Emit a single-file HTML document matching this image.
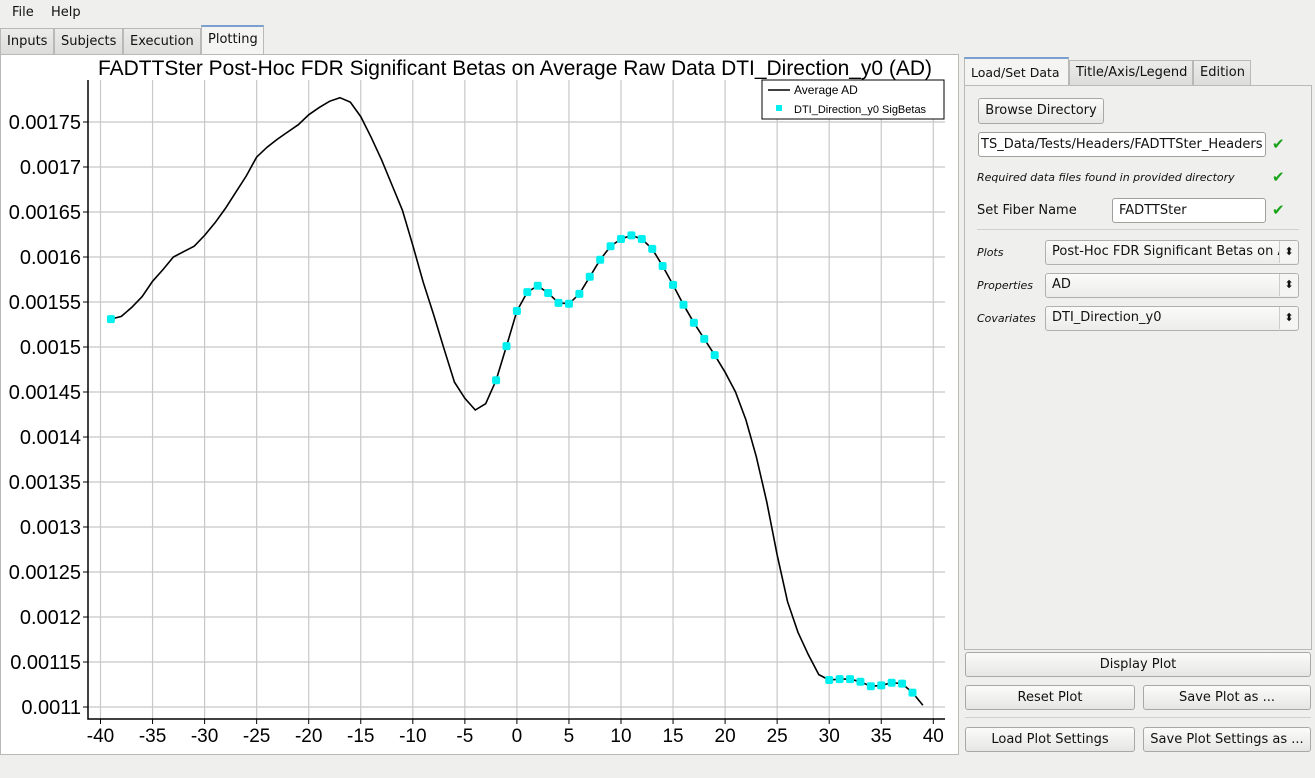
<!DOCTYPE html>
<html><head><meta charset="utf-8">
<style>
*{box-sizing:border-box}
body{margin:0;width:1315px;height:778px;background:#efefed;font-family:"DejaVu Sans","Liberation Sans",sans-serif;font-size:13px;color:#111;position:relative;overflow:hidden}
.abs{position:absolute}
.tab{position:absolute;top:28px;height:27px;border:1px solid #b9b9b6;background:linear-gradient(#ececea,#dcdcda);padding:5px 6px 0;font-size:13px;white-space:nowrap;overflow:hidden}
.btn{position:absolute;border:1px solid #a8a8a5;border-radius:3px;background:linear-gradient(#fbfbfa,#e6e6e4);text-align:center;font-size:13px;line-height:24px;white-space:nowrap}
.inp{position:absolute;border:1px solid #a0a09d;border-radius:3px;background:#fff;padding:0 6px;line-height:24px;font-size:13px;white-space:nowrap;overflow:hidden}
.combo{position:absolute;border:1px solid #b0b0ad;border-radius:3px;background:linear-gradient(#fbfbfa,#ececea);padding:0 6px;line-height:22px;font-size:13px;white-space:nowrap;overflow:hidden}
.combo:after{content:"⬍";position:absolute;right:0;top:0;width:18px;text-align:center;border-left:1px solid #ccc;font-size:11px;background:#f5f5f3}
.chk{position:absolute;color:#1aa31a;font-size:15px;font-weight:bold}
.lbl{position:absolute;font-size:13px;white-space:nowrap}
.it{font-style:italic;font-size:11px}
</style></head><body>
<div class="abs" style="left:12px;top:5px">File</div>
<div class="abs" style="left:51px;top:5px">Help</div>
<div class="tab" style="left:0;width:54px">Inputs</div>
<div class="tab" style="left:54px;width:69px">Subjects</div>
<div class="tab" style="left:123px;width:78px">Execution</div>
<div class="tab" style="left:201px;top:25px;height:30px;width:63px;background:#f4f4f2;border-top:2px solid #7ba0cf">Plotting</div>
<div class="abs" style="left:0;top:54px;width:959px;height:701px;background:#fff;border:1px solid #b9b9b6"></div>
<svg class="abs" id="chart" style="left:0;top:0" width="960" height="760"></svg>

<div class="abs" style="left:964px;top:85px;width:348px;height:565px;border:1px solid #b9b9b6;background:#efefed"></div>
<div class="tab" style="left:964px;top:57px;height:29px;width:105px;background:#f4f4f2;border-top:2px solid #7ba0cf;padding:6px 0 0 6px;font-size:12.5px">Load/Set Data</div>
<div class="tab" style="left:1069px;top:60px;height:26px;width:124px;padding-top:4px">Title/Axis/Legend</div>
<div class="tab" style="left:1193px;top:60px;height:26px;width:58px;padding-top:4px">Edition</div>
<div class="btn" style="left:978px;top:98px;width:126px;height:26px">Browse Directory</div>
<div class="inp" style="left:978px;top:132px;width:288px;height:25px;padding:0 2px">TS_Data/Tests/Headers/FADTTSter_Headers</div>
<div class="chk" style="left:1272px;top:135px">✔</div>
<div class="lbl it" style="left:977px;top:171px">Required data files found in provided directory</div>
<div class="chk" style="left:1272px;top:168px">✔</div>
<div class="lbl" style="left:977px;top:203px">Set Fiber Name</div>
<div class="inp" style="left:1112px;top:198px;width:154px;height:25px">FADTTSter</div>
<div class="chk" style="left:1272px;top:201px">✔</div>
<div class="abs" style="left:977px;top:229px;width:322px;height:1px;background:#d0d0cd"></div>
<div class="lbl it" style="left:977px;top:246px">Plots</div>
<div class="combo" style="left:1045px;top:240px;width:254px;height:25px">Post-Hoc FDR Significant Betas on A</div>
<div class="lbl it" style="left:977px;top:279px">Properties</div>
<div class="combo" style="left:1045px;top:273px;width:254px;height:25px">AD</div>
<div class="lbl it" style="left:977px;top:312px">Covariates</div>
<div class="combo" style="left:1045px;top:306px;width:254px;height:25px">DTI_Direction_y0</div>
<div class="btn" style="left:965px;top:652px;width:346px;height:25px">Display Plot</div>
<div class="btn" style="left:965px;top:685px;width:170px;height:25px">Reset Plot</div>
<div class="btn" style="left:1143px;top:685px;width:168px;height:25px">Save Plot as ...</div>
<div class="abs" style="left:965px;top:717px;width:346px;height:1px;background:#d0d0cd"></div>
<div class="btn" style="left:965px;top:727px;width:170px;height:25px">Load Plot Settings</div>
<div class="btn" style="left:1143px;top:727px;width:168px;height:25px">Save Plot Settings as ...</div>

<script>
const xs=[-39,-38,-37,-36,-35,-34,-33,-32,-31,-30,-29,-28,-27,-26,-25,-24,-23,-22,-21,-20,-19,-18,-17,-16,-15,-14,-13,-12,-11,-10,-9,-8,-7,-6,-5,-4,-3,-2,-1,0,1,2,3,4,5,6,7,8,9,10,11,12,13,14,15,16,17,18,19,20,21,22,23,24,25,26,27,28,29,30,31,32,33,34,35,36,37,38,39];
const avgAD=[.001531,.001534,.001544,.001556,.001573,.001586,.001600,.001606,.001612,.001624,.001638,.001654,.001672,.001690,.001711,.001722,.001731,.001739,.001747,.001758,.001766,.001773,.001777,.001772,.001756,.001733,.001708,.001680,.001652,.001613,.001572,.001536,.001498,.001461,.001443,.001430,.001437,.001463,.001501,.001540,.001561,.001568,.001560,.001549,.001548,.001559,.001578,.001597,.001612,.001620,.001624,.001620,.001609,.001590,.001569,.001547,.001527,.001509,.001491,.001472,.001450,.001419,.001378,.001328,.001269,.001217,.001183,.001158,.001136,.001130,.001131,.001131,.001128,.001123,.001124,.001127,.001126,.001116,.001102];
const sigX=[-39,-2,-1,0,1,2,3,4,5,6,7,8,9,10,11,12,13,14,15,16,17,18,19,30,31,32,33,34,35,36,37,38];
const xTicks=[-40,-35,-30,-25,-20,-15,-10,-5,0,5,10,15,20,25,30,35,40];
const yTicks=[0.0011,0.00115,0.0012,0.00125,0.0013,0.00135,0.0014,0.00145,0.0015,0.00155,0.0016,0.00165,0.0017,0.00175];
const yLabels=["0.0011","0.00115","0.0012","0.00125","0.0013","0.00135","0.0014","0.00145","0.0015","0.00155","0.0016","0.00165","0.0017","0.00175"];

const svg=document.getElementById('chart');
const NS='http://www.w3.org/2000/svg';
const X=v=>100.5+(v+40)*10.41;
const Y=v=>707-(v-0.0011)/0.00005*45;
function mk(t,a,p){const e=document.createElementNS(NS,t);for(const k in a)e.setAttribute(k,a[k]);(p||svg).appendChild(e);return e;}
const F='"Liberation Sans",Arial,sans-serif';
xTicks.forEach(t=>{
  const l=mk('line',{x1:X(t),x2:X(t),y1:80,y2:719,stroke:'#c8c8c8','stroke-width':1.2});
  
  
  const tk=mk('line',{x1:X(t),x2:X(t),y1:719,y2:724,stroke:'#000'});
  
  
  const tx=mk('text',{x:X(t),y:742,'text-anchor':'middle','font-size':19,'font-family':F});
  tx.textContent=t;
  
  
});
yTicks.forEach((t,i)=>{
  const l=mk('line',{x1:88,x2:945,y1:Y(t),y2:Y(t),stroke:'#c8c8c8','stroke-width':1.2});
  
  
  const tk=mk('line',{x1:83,x2:88,y1:Y(t),y2:Y(t),stroke:'#000'});
  
  
  const tx=mk('text',{x:81,y:Y(t)+7,'text-anchor':'end','font-size':20,'font-family':F});
  tx.textContent=yLabels[i];
  
  
});
const ax=mk('path',{d:'M88,80 V719 H945',fill:'none',stroke:'#000','stroke-width':1.5});


const line=mk('polyline',{points:xs.map((x,i)=>X(x)+','+Y(avgAD[i])).join(' '),fill:'none',stroke:'#000','stroke-width':1.6});


sigX.forEach(x=>{
  const i=xs.indexOf(x);
  const r=mk('rect',{x:X(x)-4,y:Y(avgAD[i])-4,width:8,height:8,rx:2,fill:'#00f0f0'});
  
  
});
const title=mk('text',{x:515,y:75,'text-anchor':'middle','font-size':21,'font-family':F,textLength:834,lengthAdjust:'spacingAndGlyphs'});
title.textContent='FADTTSter Post-Hoc FDR Significant Betas on Average Raw Data DTI_Direction_y0 (AD)';


const lg=mk('g',{});


mk('rect',{x:762,y:80,width:182,height:39,fill:'#fff',stroke:'#000'},lg);
mk('line',{x1:768,x2:790,y1:90,y2:90,stroke:'#000','stroke-width':1.5},lg);
const t1=mk('text',{x:794,y:94,'font-size':12,'font-family':F},lg);t1.textContent='Average AD';


mk('rect',{x:776,y:105,width:6,height:6,fill:'#00f0f0'},lg);
const t2=mk('text',{x:794,y:113,'font-size':11,'font-family':F},lg);t2.textContent='DTI_Direction_y0 SigBetas';


</script>
</body></html>
